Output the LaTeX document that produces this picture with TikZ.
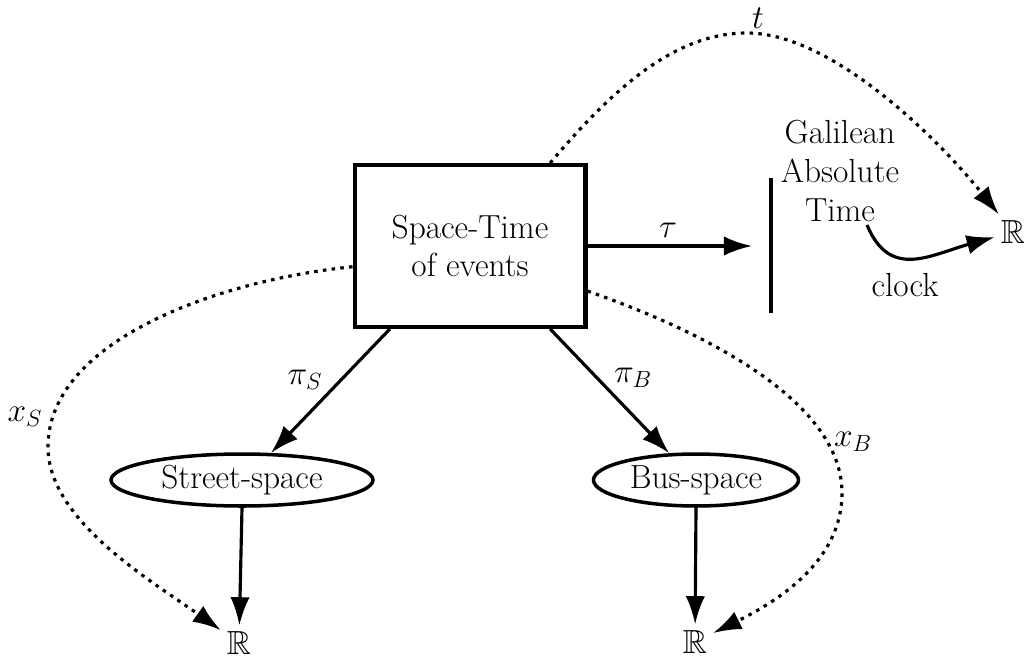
\documentclass[tikz,border=0pt]{standalone}
\usepackage{fix-cm}
\usepackage{amssymb}
\usetikzlibrary{shapes.geometric,arrows.meta}

\tikzset{
    events/.style={rectangle,draw,line width=2.3pt,minimum width=4.62cm,minimum height=3.24cm,align=center},
    space/.style={ellipse,draw,line width=2pt,inner sep=0pt,minimum height=1.04cm},
    map/.style={-{Latex[length=16pt,width=11pt]},line width=1.8pt},
    coord/.style={map,dash pattern=on 2pt off 3pt}
    }

\begin{document}
\begin{tikzpicture}[x=0.02cm,y=-0.02cm,font=\fontsize{19}{22}\selectfont]
    \useasboundingbox (0,0) rectangle (1027,656);
                % The nodes
                \node(st)[events] at (470,246) {Space-Time\\of events};
                \node(ss)[space,minimum width=5.24cm] at (242,480) {Street-space};
                \node(bs)[space,minimum width=4.1cm] at (696,480) {Bus-space};
                \node(rs) at (239,643) {$\mathbb{R}$};
                \node(rb) at (695,642) {$\mathbb{R}$};
                \node(rt) at (1013,232) {$\mathbb{R}$};
                \node(gal)[align=center] at (840,171) {Galilean\\Absolute\\Time};
                \coordinate(bar) at (771,246);
                \coordinate(tick) at (867,225);
                % The time axis
                \draw[line width=1.8pt] (771,178) -- (771,313);
                % The maps
                \draw[map,shorten >=0.38cm] (st.east) -- (bar);
                \draw[map] (st.226) -- (ss.43);
                \draw[map] (st.-46) -- (bs.135);
                \draw[map] (ss.south) -- (rs);
                \draw[map] (bs.south) -- (rb);
                \draw[map] (tick) .. controls (890,280) and (930,255) .. (rt);
                \draw[coord] (st.46) .. controls (620,80) and (680,33) .. (747,33)
                    .. controls (830,33) and (935,135) .. (rt);
                \draw[coord] (st.190) .. controls (220,280) and (48,340) .. (48,447)
                    .. controls (48,520) and (150,580) .. (rs);
                \draw[coord] (st.-21) .. controls (700,330) and (842,400) .. (842,493)
                    .. controls (842,560) and (780,600) .. (rb);
                % The labels
                \node(tau) at (668,230) {$\tau$};
                \node(t) at (758,18) {$t$};
                \node(clock) at (905,285) {clock};
                \node(piS) at (305,380) {$\pi_S$};
                \node(piB) at (633,378) {$\pi_B$};
                \node(xS) at (25,417) {$x_S$};
                \node(xB) at (853,442) {$x_B$};
            \end{tikzpicture}
\end{document}
